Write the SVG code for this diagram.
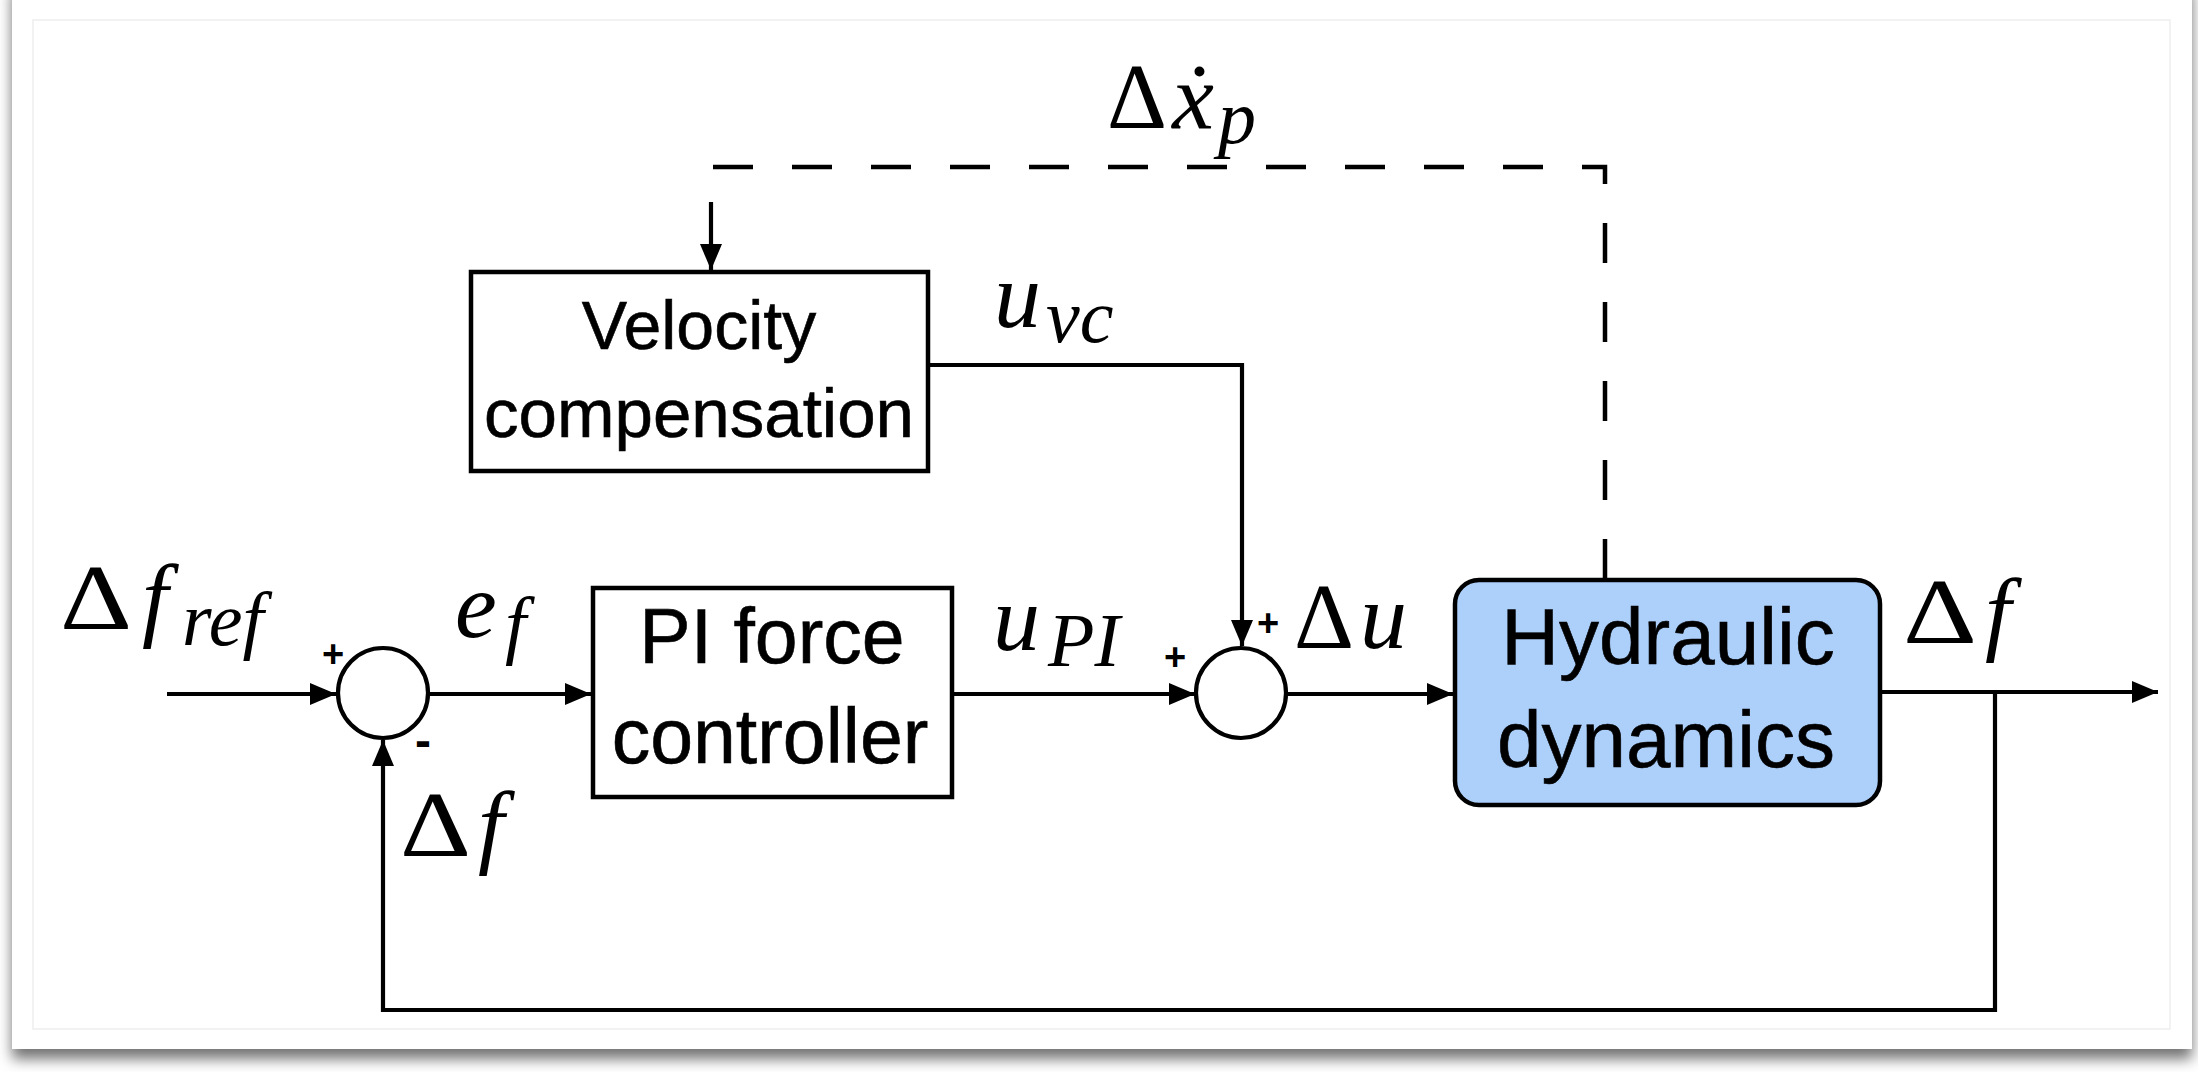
<svg xmlns="http://www.w3.org/2000/svg" width="2198" height="1072" viewBox="0 0 2198 1072">
<defs>
<filter id="sh" x="-5%" y="-5%" width="110%" height="115%">
<feDropShadow dx="0" dy="10" stdDeviation="7" flood-color="#000" flood-opacity="0.55"/>
</filter>
<marker id="ah" markerUnits="userSpaceOnUse" markerWidth="27" markerHeight="22" refX="26" refY="11" orient="auto" viewBox="0 0 27 22">
<path d="M0,0 L26,11 L0,22 Z" fill="#000"/>
</marker>
</defs>
<style>
.ln{fill:none;stroke:#000;stroke-width:4.2}
.dash{fill:none;stroke:#000;stroke-width:4.5;stroke-dasharray:40 39}
.box{fill:#fff;stroke:#000;stroke-width:4.5}
.hyd{fill:#add0fb;stroke:#000;stroke-width:4.5}
.sum{fill:#fff;stroke:#000;stroke-width:4.2}
.lbl{font-family:"Liberation Sans",Arial,sans-serif;fill:#000;text-anchor:middle;stroke:#000;stroke-width:0.6}
.m{font-family:"Liberation Serif","DejaVu Serif",serif;font-style:italic;fill:#000}
.d{font-family:"Liberation Serif","DejaVu Serif",serif;fill:#000}
.pm{font-family:"Liberation Sans",Arial,sans-serif;font-size:38px;font-weight:bold;fill:#000;text-anchor:middle}
.mn{font-family:"Liberation Sans",Arial,sans-serif;font-size:48px;font-weight:bold;fill:#000;text-anchor:middle}
</style>
<rect width="2198" height="1072" fill="#fff"/>
<rect x="12" y="-20" width="2180" height="1069" fill="#fff" filter="url(#sh)"/>
<rect x="33" y="20" width="2137" height="1009" fill="none" stroke="#eeeeee" stroke-width="1.5"/>

<g id="connectors">
<path class="ln" d="M167,694 H336" marker-end="url(#ah)"/>
<path class="ln" d="M428,694 H591" marker-end="url(#ah)"/>
<path class="ln" d="M952,694 H1195" marker-end="url(#ah)"/>
<path class="ln" d="M1286,694 H1453" marker-end="url(#ah)"/>
<path class="ln" d="M1880,692 H2158" marker-end="url(#ah)"/>
<path class="ln" d="M1995,692 V1010 H383 V740" marker-end="url(#ah)"/>
<path class="ln" d="M928,365 H1242 V646" marker-end="url(#ah)"/>
<path class="dash" d="M713,167 H1605 V580"/>
<path class="ln" d="M711,202 V270" marker-end="url(#ah)"/>
</g>

<g id="sum1">
<circle class="sum" cx="383" cy="693" r="45"/>
<text class="pm" x="333" y="667">+</text>
<text class="mn" x="423" y="757">-</text>
</g>
<g id="sum2">
<circle class="sum" cx="1241" cy="693" r="45"/>
<text class="pm" x="1175" y="670">+</text>
<text class="pm" x="1268" y="636">+</text>
</g>

<g id="velocity">
<rect class="box" x="471" y="272" width="457" height="199"/>
<text class="lbl" x="699" y="349" font-size="68">Velocity</text>
<text class="lbl" x="699" y="437" font-size="68" textLength="430" lengthAdjust="spacingAndGlyphs">compensation</text>
</g>
<g id="pi">
<rect class="box" x="593" y="588" width="359" height="209"/>
<text class="lbl" x="772" y="663" font-size="77">PI force</text>
<text class="lbl" x="770" y="763" font-size="77">controller</text>
</g>
<g id="hydraulic">
<rect class="hyd" x="1455" y="580" width="425" height="225" rx="24" ry="24"/>
<text class="lbl" x="1668" y="664" font-size="80">Hydraulic</text>
<text class="lbl" x="1666" y="767" font-size="80">dynamics</text>
</g>

<g id="labels">
<text class="d" x="60" y="629" font-size="94" textLength="72" lengthAdjust="spacingAndGlyphs">Δ</text>
<text class="m" x="142" y="629" font-size="94">f</text>
<text class="m" x="182" y="645" font-size="76">ref</text>

<text class="m" x="455" y="637" font-size="94">e</text>
<text class="m" x="505" y="650" font-size="76">f</text>

<text class="m" x="993" y="650" font-size="94">u</text>
<text class="m" x="1048" y="666" font-size="76">PI</text>

<text class="m" x="994" y="327" font-size="94">u</text>
<text class="m" x="1046" y="342" font-size="76">vc</text>

<text class="d" x="1294" y="648" font-size="94" textLength="60" lengthAdjust="spacingAndGlyphs">Δ</text>
<text class="m" x="1360" y="648" font-size="94">u</text>

<text class="d" x="1903" y="643" font-size="94" textLength="74" lengthAdjust="spacingAndGlyphs">Δ</text>
<text class="m" x="1985" y="643" font-size="94">f</text>

<text class="d" x="400" y="856" font-size="94" textLength="71" lengthAdjust="spacingAndGlyphs">Δ</text>
<text class="m" x="478" y="856" font-size="94">f</text>

<text class="d" x="1107" y="128" font-size="94" textLength="60" lengthAdjust="spacingAndGlyphs">Δ</text>
<text class="m" x="1172" y="128" font-size="94">ẋ</text>
<text class="m" x="1218" y="143" font-size="76">p</text>
</g>
</svg>
